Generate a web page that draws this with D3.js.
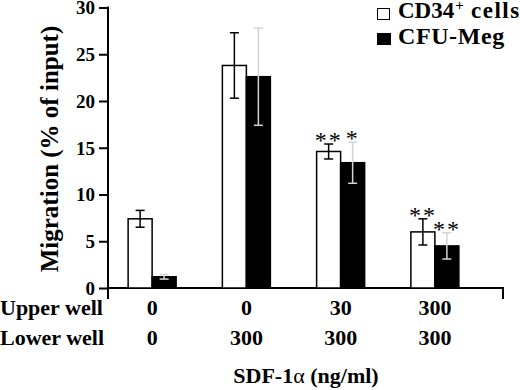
<!DOCTYPE html>
<html>
<head>
<meta charset="utf-8">
<script src="https://cdn.jsdelivr.net/npm/d3@7"></script>
<style>
  body { margin: 0; background: #fff; }
</style>
</head>
<body>
<script>
// data
const groups = ["A", "B", "C", "D"];
const upperWell = ["0", "0", "30", "300"];
const lowerWell = ["0", "300", "300", "300"];
const cd34 = [7.4, 23.8, 14.6, 6.0];
const cd34Err = [0.9, 3.5, 0.8, 1.4];
const meg = [1.2, 22.6, 13.4, 4.5];
const megErr = [0.25, 5.2, 2.2, 1.4];
const cd34Sig = ["", "", "**", "**"];
const megSig = ["", "", "*", "**"];
const yTicks = [0, 5, 10, 15, 20, 25, 30];

var serif = "Liberation Serif";

var svg = d3.select("body").append("svg").attr("width", 520).attr("height", 390);

function txt(sel) {
  return sel.style("font-family", serif);
}

var y = d3.scaleLinear().domain([0, 30]).range([288, 7.5]);
var x = d3.scaleBand().domain(groups).range([105, 482]);
var barW = 24;

// y axis
var yAxis = d3.axisLeft(y).tickValues(yTicks).tickSize(9).tickSizeOuter(0).tickPadding(4);
var ga = svg.append("g").attr("transform", "translate(108,0)").call(yAxis);
ga.select(".domain").remove();
ga.selectAll(".tick line").attr("stroke", "#000").attr("stroke-width", 2);
txt(ga.selectAll(".tick text"))
  .attr("font-weight", "bold").attr("font-size", 19).attr("fill", "#000").attr("dy", "0.34em");

svg.append("line").attr("x1", 108).attr("x2", 108).attr("y1", y(30) - 1).attr("y2", 299)
  .attr("stroke", "#000").attr("stroke-width", 2);
// x axis line with end tick
svg.append("path").attr("d", "M108," + y(0) + "H503V299")
  .attr("fill", "none").attr("stroke", "#000").attr("stroke-width", 2);

// y title
txt(svg.append("text"))
  .attr("transform", "translate(58," + 149 + ") rotate(-90)")
  .attr("text-anchor", "middle").attr("font-weight", "bold").attr("font-size", 25)
  .text("Migration (% of input)");

// bars
function drawSeries(vals, errs, sig, offset, fill, errColor) {
  var g = svg.append("g");
  g.selectAll("rect").data(vals).enter().append("rect")
    .attr("x", (d, i) => x(groups[i]) + x.bandwidth() / 2 + offset)
    .attr("y", d => y(d))
    .attr("width", barW)
    .attr("height", d => y(0) - y(d))
    .attr("fill", fill).attr("stroke", "#000").attr("stroke-width", 1.5);

  var cx = (i) => x(groups[i]) + x.bandwidth() / 2 + offset + barW / 2;
  var eb = g.selectAll(".err").data(vals).enter().append("g").attr("class", "err")
    .attr("stroke", errColor).attr("stroke-width", 1.5);
  eb.append("line").attr("x1", (d, i) => cx(i)).attr("x2", (d, i) => cx(i))
    .attr("y1", (d, i) => y(d + errs[i])).attr("y2", (d, i) => y(d - errs[i]));
  eb.append("line").attr("x1", (d, i) => cx(i) - 4.5).attr("x2", (d, i) => cx(i) + 4.5)
    .attr("y1", (d, i) => y(d + errs[i])).attr("y2", (d, i) => y(d + errs[i]));
  eb.append("line").attr("x1", (d, i) => cx(i) - 4.5).attr("x2", (d, i) => cx(i) + 4.5)
    .attr("y1", (d, i) => y(d - errs[i])).attr("y2", (d, i) => y(d - errs[i]));

  txt(g.selectAll(".sig").data(vals).enter().append("text").attr("class", "sig"))
    .attr("x", (d, i) => cx(i)).attr("y", (d, i) => y(d + errs[i]) + 4)
    .attr("text-anchor", "middle").attr("font-size", 24).attr("letter-spacing", 2)
    .text((d, i) => sig[i]);
}
drawSeries(cd34, cd34Err, cd34Sig, -barW, "#fff", "#000");
drawSeries(meg, megErr, megSig, 0, "#000", "#d4d4d4");

// legend
var leg = svg.append("g");
leg.append("rect").attr("x", 377.5).attr("y", 8.5).attr("width", 12).attr("height", 11)
  .attr("fill", "#fff").attr("stroke", "#000").attr("stroke-width", 1);
leg.append("rect").attr("x", 377).attr("y", 33).attr("width", 14).attr("height", 12)
  .attr("fill", "#000");
var t1 = txt(leg.append("text")).attr("x", 398).attr("y", 18)
  .attr("font-weight", "bold").attr("font-size", 23);
t1.append("tspan").text("CD34");
t1.append("tspan").attr("font-size", 15).attr("dy", -8).attr("dx", 1).text("+");
t1.append("tspan").attr("dy", 8).attr("letter-spacing", 1.5).text(" cells");
txt(leg.append("text")).attr("x", 398).attr("y", 44)
  .attr("font-weight", "bold").attr("font-size", 24).attr("letter-spacing", 0.6).text("CFU-Meg");

// condition table
txt(svg.append("text")).attr("x", 0).attr("y", 315).attr("font-weight", "bold")
  .attr("font-size", 22).text("Upper well");
txt(svg.append("text")).attr("x", 0).attr("y", 345).attr("font-weight", "bold")
  .attr("font-size", 22).text("Lower well");

txt(svg.selectAll(".up").data(upperWell).enter().append("text").attr("class", "up"))
  .attr("x", (d, i) => x(groups[i]) + x.bandwidth() / 2).attr("y", 315)
  .attr("text-anchor", "middle").attr("font-weight", "bold").attr("font-size", 22)
  .text(d => d);
txt(svg.selectAll(".lo").data(lowerWell).enter().append("text").attr("class", "lo"))
  .attr("x", (d, i) => x(groups[i]) + x.bandwidth() / 2).attr("y", 345)
  .attr("text-anchor", "middle").attr("font-weight", "bold").attr("font-size", 22)
  .text(d => d);

var xt = txt(svg.append("text")).attr("x", 306).attr("y", 383).attr("text-anchor", "middle")
  .attr("font-weight", "bold").attr("font-size", 22);
xt.append("tspan").text("SDF-1");
xt.append("tspan").attr("font-weight", "normal").text("\u03b1");
xt.append("tspan").text(" (ng/ml)");
</script>
</body>
</html>
